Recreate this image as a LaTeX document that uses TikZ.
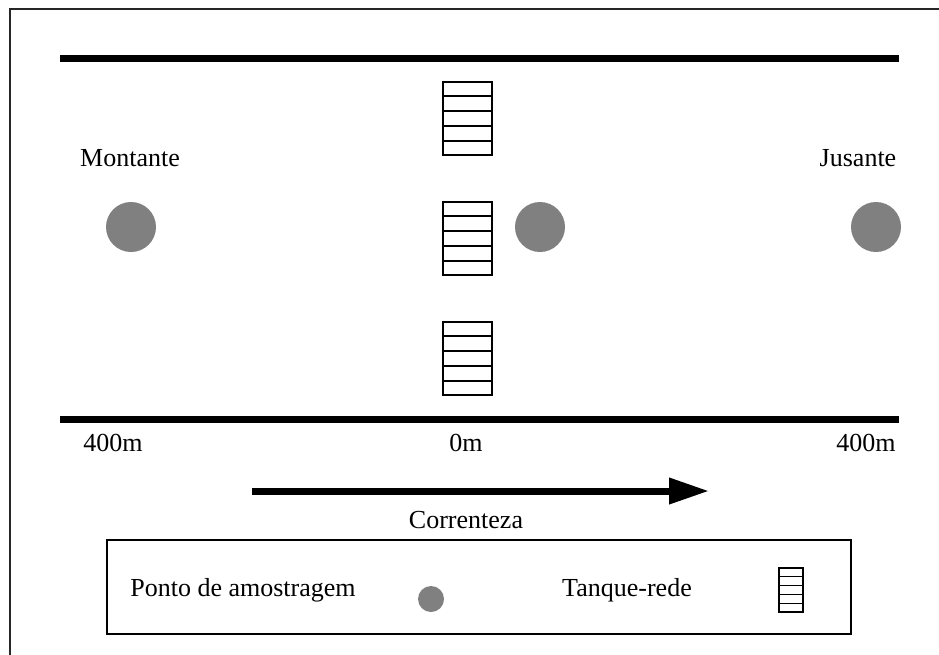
\documentclass[tikz,border=0pt]{standalone}
\usepackage{fontspec}
\setmainfont{Liberation Serif}
\usetikzlibrary{calc,arrows.meta}
\begin{document}
\begin{tikzpicture}[x=1pt,y=-1pt,
  bank/.style={line width=7pt},
  frameline/.style={line width=2pt,draw=black!85},
  station/.style={circle,fill=black!50,draw=none,inner sep=0pt,minimum size=50pt},
  tank/.style={draw,line width=1.8pt,inner sep=0pt,minimum width=49pt,minimum height=73pt},
  lbl/.style={font=\fontsize{26}{30}\selectfont,inner sep=0pt}
]
\useasboundingbox (0,0) rectangle (939,654);
\fill[white] (0,0) rectangle (939,654);

% outer frame (runs off the page on the right and bottom)
\draw[frameline] (10,660) -- (10,9) -- (945,9);

% river banks
\coordinate (tl) at (60,58);
\coordinate (tr) at (899,58);
\coordinate (bl) at (60,419);
\coordinate (br) at (899,419);
\draw[bank] (tl) -- (tr);
\draw[bank] (bl) -- (br);

% net cages at 0 m
\node[tank] (cage1) at (467.5,118.5) {};
\node[tank] (cage2) at (467.5,238.5) {};
\node[tank] (cage3) at (467.5,358.5) {};

% sampling stations
\node[station] (up)   at (131,227) {};
\node[station] (mid)  at (540,227) {};
\node[station] (down) at (876,227) {};

\node[lbl] (montante) at (130,158) {Montante};
\node[lbl] (jusante)  at (858,158) {Jusante};

% distance marks
\node[lbl] (d1) at (113,443) {400m};
\node[lbl] (d0) at (466,443) {0m};
\node[lbl] (d2) at (866,443) {400m};

% flow direction
\coordinate (fa) at (252,491);
\coordinate (fb) at (709,491);
\draw[line width=7pt,-{Triangle[length=40pt,width=25pt]}] (fa) -- (fb);
\node[lbl] (flow) at (466,520) {Correnteza};

% legend
\node[draw,line width=1.8pt,minimum width=744pt,minimum height=94pt,inner sep=0pt] (legend) at (479,587) {};
\node[lbl] (lp) at (243,590) {Ponto de amostragem};
\node[station,minimum size=26pt] (lpc) at (431,599) {};
\node[lbl] (lt) at (627,590) {Tanque-rede};
\node[tank,minimum width=24pt,minimum height=44pt,line width=1.5pt] (ltk) at (791,590) {};

% rows inside each cage
\foreach \c/\w in {cage1/1.8pt,cage2/1.8pt,cage3/1.8pt,ltk/1.5pt}
  \foreach \i in {1,...,4}
    \draw[line width=\w]
      ($(\c.north west)!\i/5!(\c.south west)$) -- ($(\c.north east)!\i/5!(\c.south east)$);
\end{tikzpicture}
\end{document}
